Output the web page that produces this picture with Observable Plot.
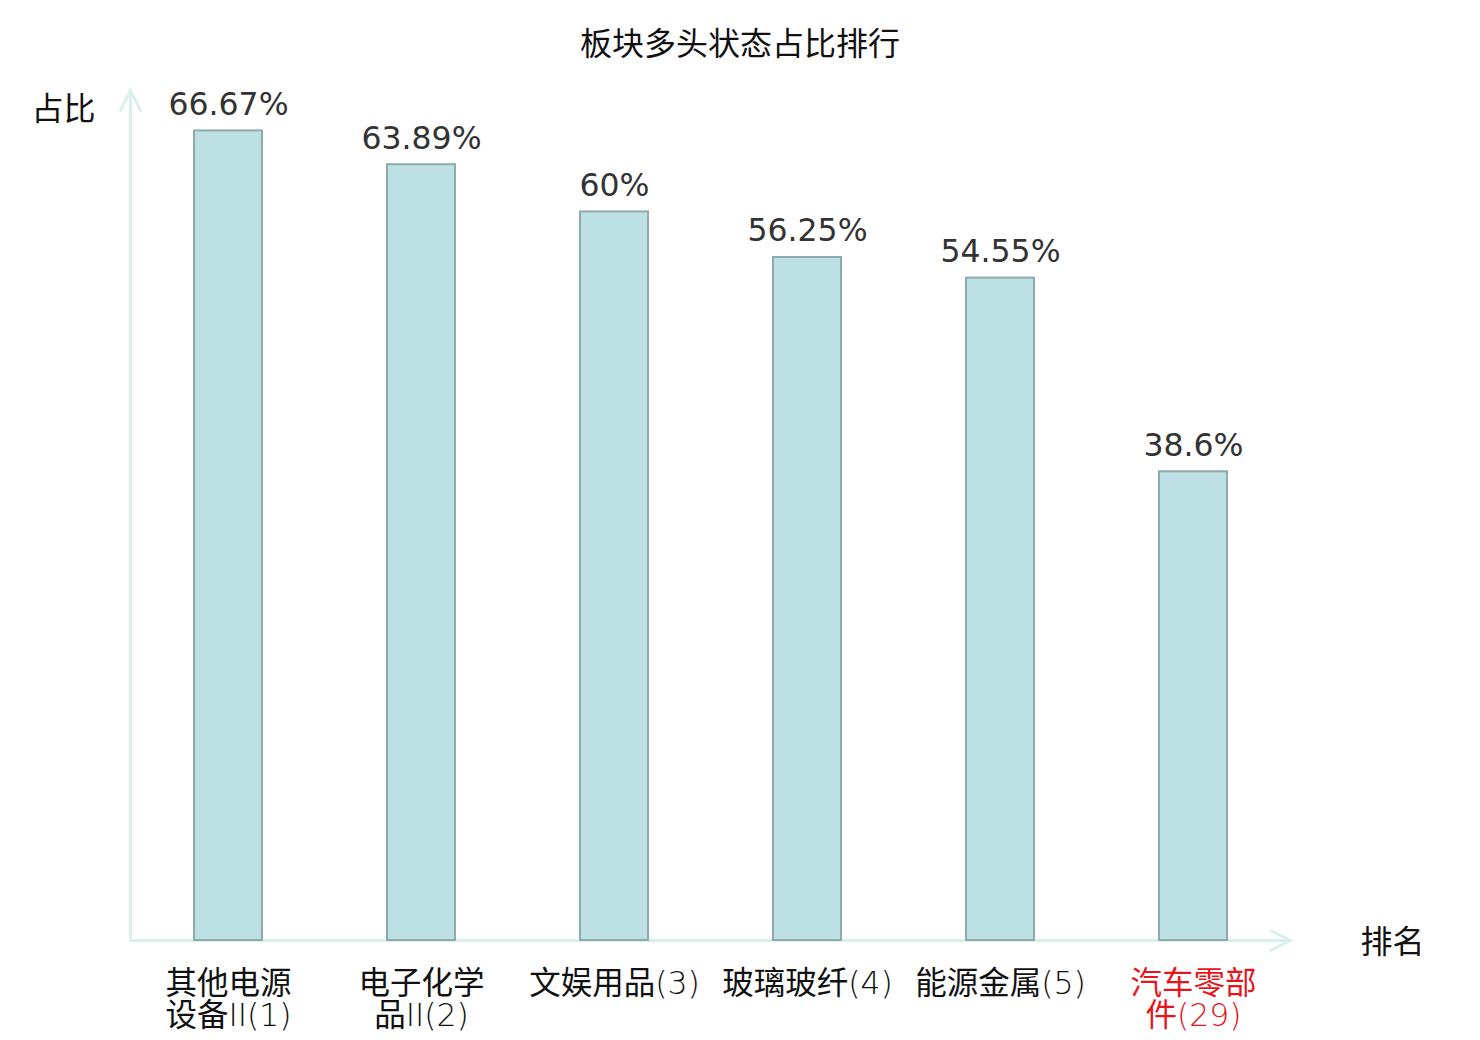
<!DOCTYPE html>
<html>
<head>
<meta charset="utf-8">
<script src="https://cdn.jsdelivr.net/npm/d3@7"></script>
<script src="https://cdn.jsdelivr.net/npm/@observablehq/plot@0.6"></script>
<style>
  html, body { margin: 0; padding: 0; background: #fff; }
  #title { width: 1480px; height: 80px; box-sizing: border-box; padding-top: 25px; text-align: center;
    font-family: "Noto Sans CJK SC", sans-serif; font-size: 32px; line-height: 32px; color: #111; }
  #chart svg { display: block; }
</style>
</head>
<body>
<div id="title">板块多头状态占比排行</div>
<div id="chart"></div>
<script>
const names = ["其他电源设备II", "电子化学品II", "文娱用品", "玻璃玻纤", "能源金属", "汽车零部件"];
const ranks = [1, 2, 3, 4, 5, 29];
const values = [66.67, 63.89, 60, 56.25, 54.55, 38.6];
const yDomain = [0, 70];
const yLabel = "占比";
const xLabel = "排名";

const data = names.map((n, i) => ({
  name: n, rank: ranks[i], value: values[i],
  label: (n.length > 4 ? n.slice(0, 4) + "\n" + n.slice(4) : n) + "(" + ranks[i] + ")",
  highlight: i === names.length - 1
}));

const axisColor = "#daf0ed";
const chevronUp = {
  draw(ctx, size) {
    const s = Math.sqrt(size / Math.PI);
    ctx.moveTo(-s * 0.5, s);
    ctx.lineTo(0, 0);
    ctx.lineTo(s * 0.5, s);
  }
};

const chart = Plot.plot({
  width: 1480,
  height: 960,
  marginTop: 10,
  marginBottom: 100,
  marginLeft: 130,
  marginRight: 190,
  style: { fontFamily: "'DejaVu Sans', 'Noto Sans CJK SC', sans-serif", background: "#fff" },
  x: { domain: names, paddingInner: 0.648, paddingOuter: 0.324, axis: null },
  y: { domain: yDomain, axis: null },
  marks: [
    Plot.ruleY([0], { stroke: axisColor, strokeWidth: 3 }),
    Plot.frame({ anchor: "left", stroke: axisColor, strokeWidth: 3 }),
    Plot.dot([0], { frameAnchor: "top-left", symbol: chevronUp, r: 21, stroke: axisColor, strokeWidth: 3, fill: "none" }),
    Plot.dot([0], { frameAnchor: "bottom-right", symbol: chevronUp, r: 21, rotate: 90, stroke: axisColor, strokeWidth: 3, fill: "none" }),
    Plot.barY(data, { x: "name", y: "value", fill: "#bce0e3", stroke: "#8eaaac", strokeWidth: 2 }),
    Plot.text(data, { x: "name", y: "value", text: d => d.value + "%", lineAnchor: "bottom", dy: -16,
      fontSize: 31.5, fill: "#333", fontFamily: "'DejaVu Sans', sans-serif" }),
    Plot.text(data, { x: "name", y: () => 0, text: "label", lineAnchor: "top", dy: 31, lineHeight: 1.02,
      fontSize: 31.5, fill: d => d.highlight ? "#e8141c" : "#111",
      fontFamily: "'DejaVu Sans Light', 'DejaVu Sans ExtraLight', 'Noto Sans CJK SC', sans-serif" }),
    Plot.text([yLabel], { frameAnchor: "top-left", dx: -67, dy: 7, lineAnchor: "top", textAnchor: "middle",
      fontSize: 32, fill: "#111", fontFamily: "'Noto Sans CJK SC', sans-serif" }),
    Plot.text([xLabel], { frameAnchor: "bottom-right", dx: 102, dy: 12, textAnchor: "middle",
      fontSize: 32, fill: "#111", fontFamily: "'Noto Sans CJK SC', sans-serif" })
  ]
});
document.getElementById("chart").appendChild(chart);
</script>
</body>
</html>
